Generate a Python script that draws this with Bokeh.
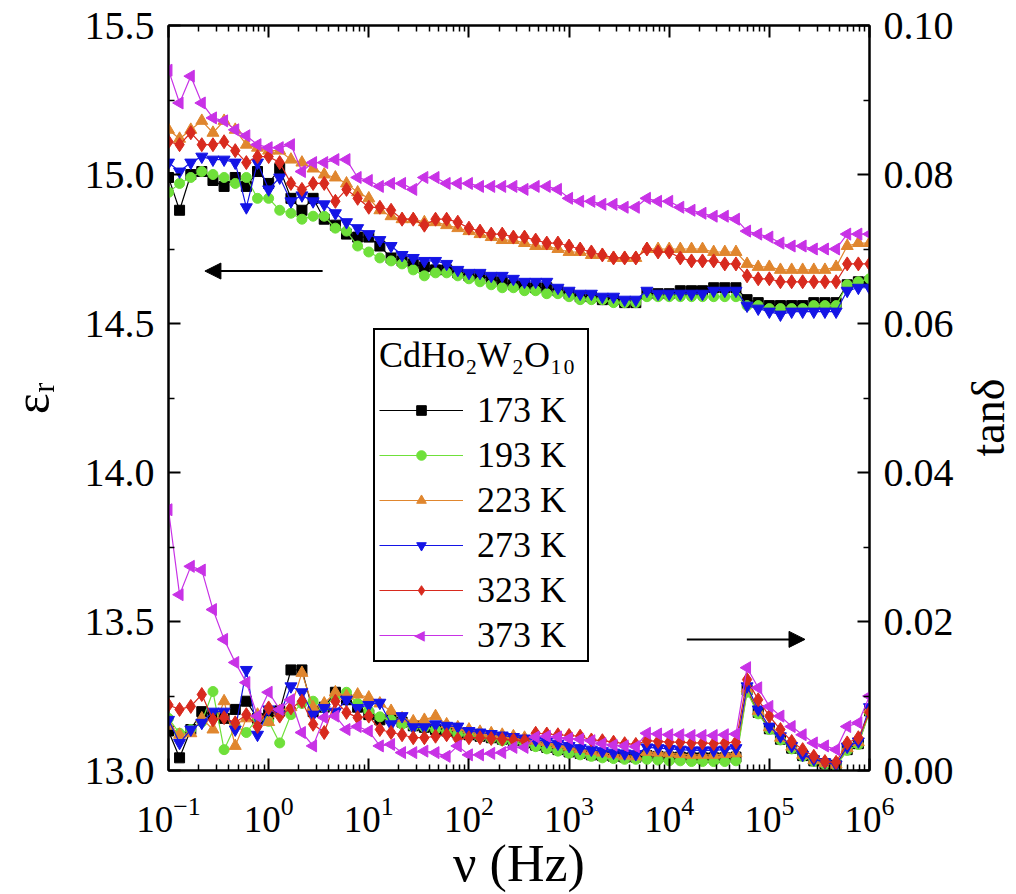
import math
from bokeh.plotting import figure
from bokeh.layouts import row
from bokeh.models import (LogAxis, LinearAxis, Range1d, FixedTicker, PrintfTickFormatter,
                          CustomJSTickFormatter, Legend, LegendItem, Arrow, NormalHead, Label)
from bokeh.embed import file_html
from bokeh.resources import INLINE

# ---------------- data ----------------
freq = [0.1, 0.129, 0.167, 0.215, 0.278, 0.359, 0.464, 0.599, 0.774,
        1.0, 1.29, 1.67, 2.15, 2.78, 3.59, 4.64, 5.99, 7.74,
        10.0, 12.9, 16.7, 21.5, 27.8, 35.9, 46.4, 59.9, 77.4,
        100.0, 129.0, 167.0, 215.0, 278.0, 359.0, 464.0, 599.0, 774.0,
        1e3, 1290.0, 1670.0, 2150.0, 2780.0, 3590.0, 4640.0, 5990.0, 7740.0,
        1e4, 12900.0, 16700.0, 21500.0, 27800.0, 35900.0, 46400.0, 59900.0, 77400.0,
        1e5, 129000.0, 167000.0, 215000.0, 278000.0, 359000.0, 464000.0, 599000.0, 774000.0,
        1e6]

eps_173 = [14.99, 14.88, 15.00, 15.01, 14.98, 14.96, 14.99, 14.96, 15.01, 14.97,
           15.02, 14.92, 14.88, 14.92, 14.85, 14.83, 14.80, 14.79, 14.79, 14.76,
           14.72, 14.71, 14.70, 14.69, 14.68, 14.68, 14.67, 14.66, 14.66, 14.65,
           14.64, 14.63, 14.63, 14.62, 14.62, 14.61, 14.60, 14.59, 14.59, 14.58,
           14.58, 14.57, 14.57, 14.60, 14.60, 14.60, 14.61, 14.61, 14.61, 14.62,
           14.62, 14.62, 14.58, 14.57, 14.56, 14.56, 14.56, 14.56, 14.57, 14.57,
           14.57, 14.63, 14.64, 14.64]
eps_193 = [14.94, 14.97, 14.99, 15.01, 15.00, 14.99, 14.97, 14.99, 14.92, 14.92,
           14.88, 14.87, 14.85, 14.86, 14.86, 14.82, 14.81, 14.76, 14.74, 14.72,
           14.71, 14.70, 14.68, 14.66, 14.67, 14.67, 14.66, 14.65, 14.64, 14.63,
           14.62, 14.62, 14.61, 14.61, 14.60, 14.60, 14.59, 14.58, 14.58, 14.58,
           14.57, 14.57, 14.57, 14.59, 14.59, 14.59, 14.59, 14.59, 14.59, 14.59,
           14.59, 14.59, 14.56, 14.56, 14.55, 14.55, 14.55, 14.55, 14.56, 14.56,
           14.56, 14.63, 14.64, 14.65]
eps_223 = [15.15, 15.12, 15.15, 15.18, 15.14, 15.18, 15.15, 15.10, 15.09, 15.08,
           15.08, 15.05, 15.04, 15.02, 15.00, 14.99, 14.97, 14.94, 14.92, 14.88,
           14.86, 14.85, 14.85, 14.84, 14.84, 14.83, 14.82, 14.81, 14.80, 14.79,
           14.78, 14.78, 14.77, 14.76, 14.76, 14.75, 14.74, 14.74, 14.73, 14.73,
           14.72, 14.72, 14.72, 14.75, 14.75, 14.75, 14.75, 14.75, 14.75, 14.74,
           14.74, 14.74, 14.70, 14.69, 14.69, 14.68, 14.68, 14.68, 14.68, 14.68,
           14.69, 14.76, 14.77, 14.77]
eps_273 = [15.04, 15.01, 15.04, 15.06, 15.05, 15.05, 15.04, 14.89, 15.04, 14.95,
           14.99, 14.91, 14.93, 14.91, 14.90, 14.87, 14.84, 14.82, 14.80, 14.78,
           14.76, 14.73, 14.72, 14.71, 14.71, 14.70, 14.68, 14.67, 14.67, 14.66,
           14.66, 14.65, 14.64, 14.64, 14.64, 14.62, 14.61, 14.60, 14.60, 14.59,
           14.59, 14.58, 14.58, 14.61, 14.60, 14.60, 14.60, 14.60, 14.60, 14.61,
           14.61, 14.61, 14.56, 14.55, 14.54, 14.53, 14.54, 14.54, 14.54, 14.54,
           14.54, 14.61, 14.62, 14.62]
eps_323 = [15.11, 15.10, 15.14, 15.10, 15.10, 15.11, 15.08, 15.04, 15.06, 15.06,
           15.04, 14.97, 14.95, 14.97, 14.97, 14.91, 14.95, 14.92, 14.89, 14.89,
           14.88, 14.85, 14.85, 14.83, 14.85, 14.85, 14.84, 14.82, 14.81, 14.80,
           14.80, 14.79, 14.79, 14.78, 14.77, 14.77, 14.76, 14.75, 14.74, 14.73,
           14.72, 14.72, 14.72, 14.75, 14.74, 14.74, 14.72, 14.71, 14.71, 14.71,
           14.70, 14.70, 14.66, 14.65, 14.65, 14.64, 14.64, 14.64, 14.64, 14.64,
           14.64, 14.70, 14.70, 14.70]
eps_373 = [15.35, 15.24, 15.33, 15.24, 15.19, 15.18, 15.15, 15.13, 15.10, 15.09,
           15.09, 15.10, 15.01, 15.04, 15.04, 15.05, 15.05, 14.99, 14.98, 14.96,
           14.97, 14.97, 14.95, 14.99, 14.99, 14.97, 14.97, 14.97, 14.96, 14.96,
           14.96, 14.96, 14.95, 14.96, 14.96, 14.95, 14.92, 14.91, 14.91, 14.90,
           14.90, 14.89, 14.89, 14.92, 14.91, 14.91, 14.89, 14.88, 14.87, 14.86,
           14.86, 14.85, 14.81, 14.80, 14.79, 14.77, 14.76, 14.76, 14.75, 14.75,
           14.75, 14.80, 14.80, 14.80]

tan_173 = [0.0053, 0.0017, 0.0055, 0.0079, 0.0075, 0.0070, 0.0082, 0.0093, 0.0070, 0.0075,
           0.0080, 0.0135, 0.0135, 0.0079, 0.0085, 0.0105, 0.0095, 0.0085, 0.0075, 0.0068,
           0.0070, 0.0065, 0.0060, 0.0058, 0.0055, 0.0053, 0.0050, 0.0048, 0.0046, 0.0044,
           0.0042, 0.0040, 0.0037, 0.0034, 0.0031, 0.0028, 0.0025, 0.0023, 0.0021, 0.0020,
           0.0019, 0.0018, 0.0018, 0.0020, 0.0019, 0.0018, 0.0018, 0.0017, 0.0017, 0.0017,
           0.0017, 0.0018, 0.0108, 0.0078, 0.0056, 0.0042, 0.0030, 0.0020, 0.0013, 0.0009,
           0.0007, 0.0028, 0.0036, 0.0080]
tan_193 = [0.0070, 0.0050, 0.0055, 0.0065, 0.0106, 0.0028, 0.0060, 0.0051, 0.0070, 0.0066,
           0.0037, 0.0075, 0.0090, 0.0093, 0.0085, 0.0100, 0.0105, 0.0090, 0.0080, 0.0072,
           0.0068, 0.0062, 0.0059, 0.0058, 0.0055, 0.0052, 0.0049, 0.0047, 0.0045, 0.0043,
           0.0040, 0.0038, 0.0035, 0.0032, 0.0029, 0.0026, 0.0023, 0.0021, 0.0019, 0.0017,
           0.0016, 0.0015, 0.0015, 0.0015, 0.0014, 0.0013, 0.0013, 0.0012, 0.0012, 0.0012,
           0.0012, 0.0013, 0.0105, 0.0076, 0.0055, 0.0041, 0.0029, 0.0019, 0.0012, 0.0008,
           0.0006, 0.0027, 0.0035, 0.0078]
tan_223 = [0.0060, 0.0048, 0.0050, 0.0070, 0.0055, 0.0093, 0.0033, 0.0070, 0.0075, 0.0065,
           0.0080, 0.0085, 0.0131, 0.0085, 0.0090, 0.0105, 0.0100, 0.0102, 0.0098, 0.0090,
           0.0080, 0.0070, 0.0066, 0.0068, 0.0073, 0.0062, 0.0058, 0.0055, 0.0052, 0.0050,
           0.0048, 0.0046, 0.0044, 0.0040, 0.0038, 0.0035, 0.0032, 0.0029, 0.0026, 0.0024,
           0.0022, 0.0020, 0.0019, 0.0025, 0.0024, 0.0023, 0.0022, 0.0021, 0.0021, 0.0021,
           0.0022, 0.0023, 0.0110, 0.0080, 0.0058, 0.0044, 0.0032, 0.0021, 0.0014, 0.0010,
           0.0008, 0.0030, 0.0038, 0.0082]
tan_273 = [0.0068, 0.0037, 0.0055, 0.0064, 0.0079, 0.0079, 0.0055, 0.0135, 0.0048, 0.0082,
           0.0075, 0.0113, 0.0105, 0.0075, 0.0084, 0.0079, 0.0095, 0.0084, 0.0088, 0.0091,
           0.0062, 0.0073, 0.0058, 0.0058, 0.0062, 0.0060, 0.0059, 0.0053, 0.0051, 0.0049,
           0.0047, 0.0045, 0.0043, 0.0041, 0.0039, 0.0036, 0.0033, 0.0030, 0.0028, 0.0026,
           0.0024, 0.0023, 0.0022, 0.0031, 0.0030, 0.0029, 0.0028, 0.0027, 0.0027, 0.0027,
           0.0028, 0.0030, 0.0113, 0.0082, 0.0059, 0.0046, 0.0033, 0.0021, 0.0015, 0.0011,
           0.0008, 0.0032, 0.0039, 0.0085]
tan_323 = [0.0088, 0.0082, 0.0086, 0.0102, 0.0068, 0.0071, 0.0064, 0.0075, 0.0059, 0.0084,
           0.0073, 0.0084, 0.0093, 0.0062, 0.0051, 0.0093, 0.0078, 0.0071, 0.0073, 0.0055,
           0.0051, 0.0048, 0.0044, 0.0044, 0.0046, 0.0048, 0.0042, 0.0044, 0.0044, 0.0043,
           0.0042, 0.0041, 0.0040, 0.0050, 0.0049, 0.0048, 0.0047, 0.0046, 0.0041, 0.0040,
           0.0038, 0.0036, 0.0035, 0.0040, 0.0039, 0.0038, 0.0038, 0.0037, 0.0037, 0.0036,
           0.0037, 0.0038, 0.0122, 0.0095, 0.0073, 0.0055, 0.0039, 0.0028, 0.0019, 0.0012,
           0.0011, 0.0037, 0.0044, 0.0078]
tan_373 = [0.0350, 0.0236, 0.0274, 0.0269, 0.0216, 0.0176, 0.0145, 0.0118, 0.0073, 0.0105,
           0.0082, 0.0095, 0.0051, 0.0033, 0.0071, 0.0073, 0.0055, 0.0059, 0.0053, 0.0033,
           0.0035, 0.0024, 0.0024, 0.0026, 0.0024, 0.0019, 0.0033, 0.0021, 0.0021, 0.0023,
           0.0024, 0.0031, 0.0031, 0.0045, 0.0046, 0.0045, 0.0043, 0.0042, 0.0040, 0.0036,
           0.0034, 0.0033, 0.0032, 0.0050, 0.0049, 0.0048, 0.0048, 0.0047, 0.0047, 0.0047,
           0.0048, 0.0049, 0.0138, 0.0111, 0.0086, 0.0073, 0.0059, 0.0048, 0.0037, 0.0033,
           0.0028, 0.0059, 0.0064, 0.0100]

labels = ["173 K", "193 K", "223 K", "273 K", "323 K", "373 K"]
eps_series = [eps_173, eps_193, eps_223, eps_273, eps_323, eps_373]
tan_series = [tan_173, tan_193, tan_223, tan_273, tan_323, tan_373]

x_major = [1e-1, 1e0, 1e1, 1e2, 1e3, 1e4, 1e5, 1e6]
eps_major = [13.0, 13.5, 14.0, 14.5, 15.0, 15.5]
eps_minor = [13.25, 13.75, 14.25, 14.75, 15.25]
tan_major = [0.0, 0.02, 0.04, 0.06, 0.08, 0.10]
tan_minor = [0.01, 0.03, 0.05, 0.07, 0.09]
legend_title = "CdHo\u2082W\u2082O\u2081\u2080"

# ---------------- styles ----------------
FONT = "Liberation Serif"
colors = ["#000000", "#6FE03A", "#E0862E", "#1414E6", "#D82A1E", "#C832E6"]
markers = ["square", "circle", "triangle", "inverted_triangle", "diamond", "triangle"]
angles = [0, 0, 0, 0, 0, math.pi / 2]
msizes = [10, 10, 12, 12, 14, 12]

W, H, WS = 956, 894, 60     # main figure, strip on the right for the tan(delta) title
p = figure(width=W, height=H, x_axis_type="log", x_range=(0.1, 1e6),
           y_range=(13.0, 15.5), output_backend="svg", toolbar_location=None,
           min_border_left=165, min_border_right=W - 870, min_border_top=25,
           min_border_bottom=H - 771)
p.extra_y_ranges = {"tan": Range1d(0.0, 0.10)}
p.xgrid.visible = False
p.ygrid.visible = False
p.outline_line_color = "black"
p.outline_line_width = 2
p.background_fill_color = "white"
p.border_fill_color = "white"

x_minor = [m * d for d in x_major[:-1] for m in range(2, 10)]


def style_axis(ax, size="40px"):
    ax.axis_line_width = 2
    ax.axis_line_color = "black"
    ax.major_tick_in = 12
    ax.major_tick_out = 0
    ax.major_tick_line_width = 2
    ax.minor_tick_in = 6
    ax.minor_tick_out = 0
    ax.minor_tick_line_width = 1.5
    ax.major_label_text_font = FONT
    ax.major_label_text_font_size = size
    ax.major_label_text_color = "black"
    ax.axis_label_text_font = FONT
    ax.axis_label_text_font_style = "normal"
    ax.axis_label_text_color = "black"


xb = p.below[0]
xb.ticker = FixedTicker(ticks=x_major, minor_ticks=x_minor)
style_axis(xb, "37px")
xb.major_label_standoff = 26
xb.axis_label = "\u03bd (Hz)"
xb.axis_label_text_font_size = "52px"
xb.axis_label_standoff = 0

yl = p.left[0]
yl.ticker = FixedTicker(ticks=eps_major, minor_ticks=eps_minor)
yl.formatter = PrintfTickFormatter(format="%.1f")
style_axis(yl)
yl.major_label_standoff = 14
yl.axis_label = "\u03b5\u1d63"
yl.axis_label_text_font_size = "50px"
yl.axis_label_standoff = 22

xt = LogAxis(ticker=FixedTicker(ticks=x_major, minor_ticks=x_minor),
             formatter=CustomJSTickFormatter(code="return ''"))
style_axis(xt)
p.add_layout(xt, "above")

yr = LinearAxis(y_range_name="tan", ticker=FixedTicker(ticks=tan_major, minor_ticks=tan_minor),
                formatter=PrintfTickFormatter(format="%.2f"))
style_axis(yr)
yr.major_label_standoff = 14
p.add_layout(yr, "right")

items = []
for lab, e, t, c, m, a, s in zip(labels, eps_series, tan_series, colors, markers, angles, msizes):
    l1 = p.line(freq, e, line_color=c, line_width=1.2)
    s1 = p.scatter(freq, e, marker=m, angle=a, size=s, fill_color=c, line_color=c)
    p.line(freq, t, line_color=c, line_width=1.2, y_range_name="tan")
    p.scatter(freq, t, marker=m, angle=a, size=s, fill_color=c, line_color=c, y_range_name="tan")
    items.append(LegendItem(label=lab, renderers=[l1] if a else [l1, s1]))

LEG_X, LEG_Y, PAD, GLW, ROWH = 205, 108, 4, 84, 42
legend = Legend(items=items, location=(LEG_X, LEG_Y), title=legend_title,
                title_text_font=FONT, title_text_font_size="36px",
                title_text_font_style="normal", title_text_color="black", title_standoff=13,
                label_text_font=FONT, label_text_font_size="36px", label_text_color="black",
                glyph_width=GLW, glyph_height=24, label_height=39, label_width=106,
                label_standoff=14, spacing=3, padding=PAD, margin=0,
                border_line_color="black", border_line_width=2, border_line_alpha=1.0,
                background_fill_alpha=0.0)
p.add_layout(legend)

# left-pointing triangle for the 373 K legend entry (legend glyphs ignore marker angle)
p.add_layout(Label(x=LEG_X + PAD + GLW / 2, y=LEG_Y + 3 + PAD + ROWH / 2,
                   x_units="screen", y_units="screen", text="\u25c0",
                   text_align="center", text_baseline="middle",
                   text_font="DejaVu Sans", text_font_size="14px", text_color=colors[5]))

# arrows pointing to the matching axis
p.add_layout(Arrow(end=NormalHead(size=16, fill_color="black", line_color="black"),
                   x_start=3.46, y_start=14.676, x_end=0.231, y_end=14.676,
                   line_width=2, line_color="black"))
p.add_layout(Arrow(end=NormalHead(size=16, fill_color="black", line_color="black"),
                   x_start=1.5e4, y_start=0.0176, x_end=2.27e5, y_end=0.0176,
                   line_width=2, line_color="black", y_range_name="tan"))

# narrow strip holding the right-hand axis title, read bottom-to-top
# (its frame is aligned with the main frame: 25..771 px from the top)
p2 = figure(width=WS, height=H, x_range=(0, 1), y_range=(0, 1), output_backend="svg",
            toolbar_location=None, min_border=0, x_axis_location=None, y_axis_location=None)
p2.xgrid.visible = False
p2.ygrid.visible = False
p2.outline_line_color = None
p2.background_fill_color = "white"
p2.border_fill_color = "white"
p2.add_layout(Label(x=32, y=771 - 418, x_units="screen", y_units="screen", text="tan\u03b4",
                    angle=math.pi / 2, text_align="center", text_baseline="middle",
                    text_font=FONT, text_font_size="46px", text_color="black"))

layout = row(p, p2, spacing=0)
open("out.html", "w").write(file_html(layout, INLINE))
